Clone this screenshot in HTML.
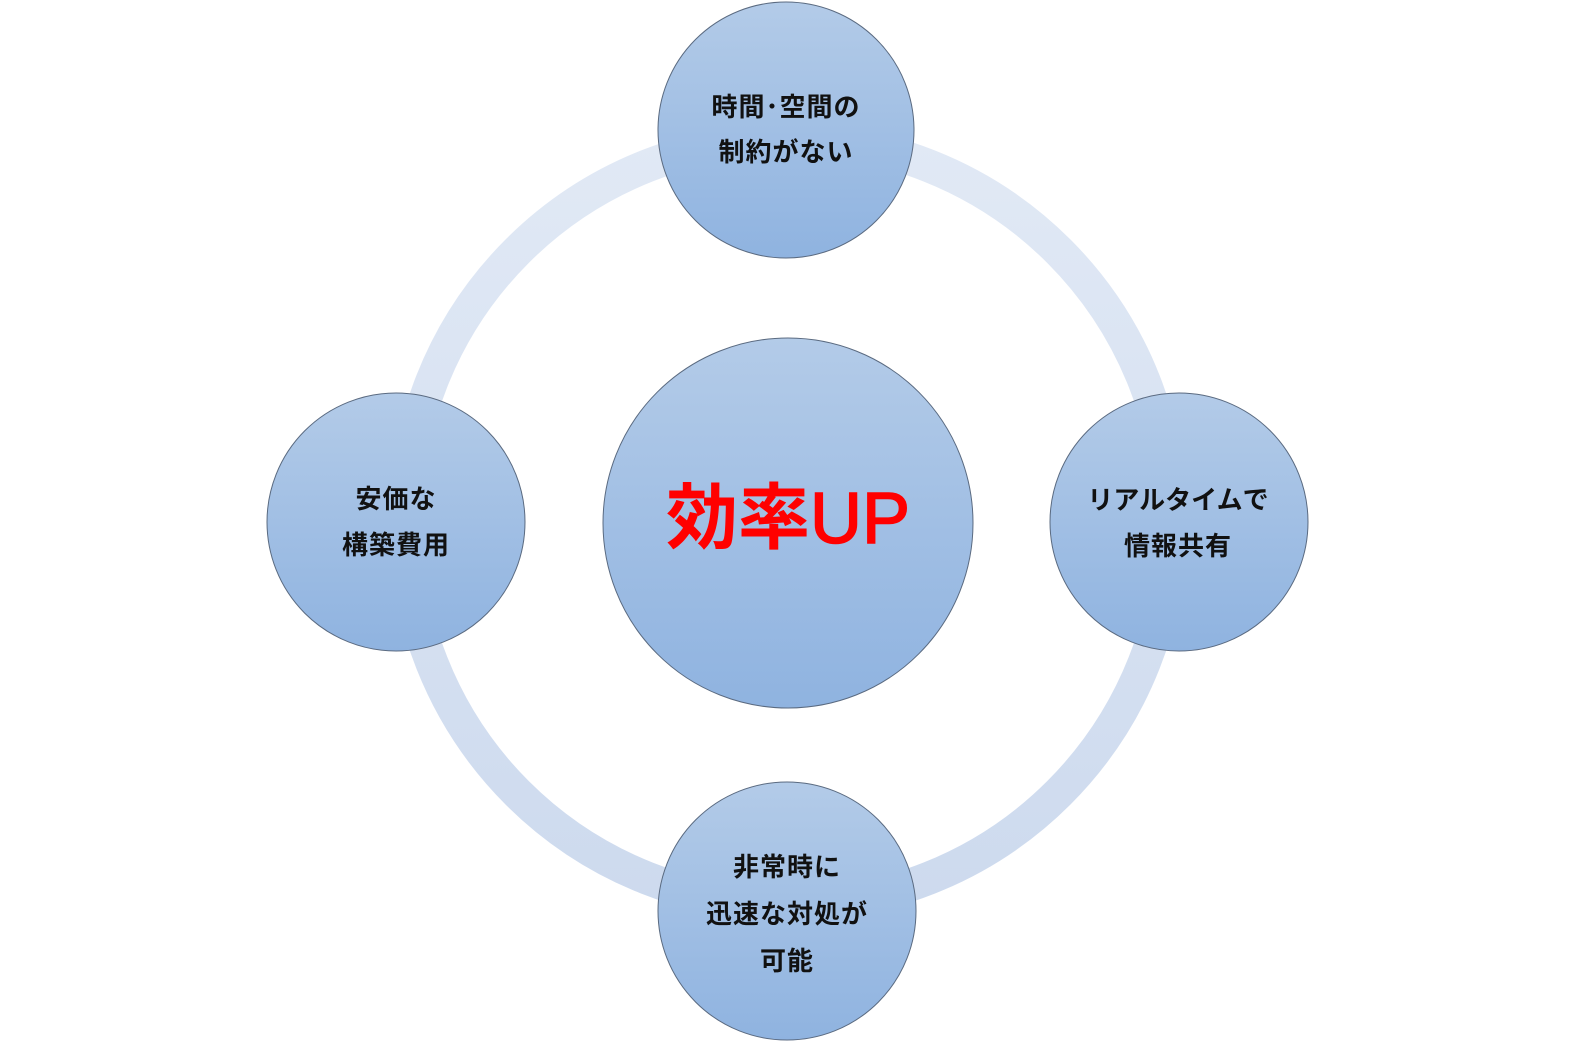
<!DOCTYPE html>
<html>
<head>
<meta charset="utf-8">
<style>
  html, body { margin: 0; padding: 0; background: #ffffff; }
  body { width: 1576px; height: 1047px; overflow: hidden; }
  svg { display: block; }
  .lbl { font-family: "Liberation Sans", "Noto Sans CJK JP", sans-serif; font-size: 26px; font-weight: bold; fill: #111111; }
  .main { font-family: "Liberation Sans", "Noto Sans CJK JP", sans-serif; font-size: 72px; fill: #ff0000; }
</style>
</head>
<body>
<svg width="1576" height="1047" viewBox="0 0 1576 1047" xmlns="http://www.w3.org/2000/svg">
  <defs>
    <linearGradient id="ringG" x1="0" y1="0" x2="0" y2="1">
      <stop offset="0" stop-color="#e1e9f5"/>
      <stop offset="1" stop-color="#cddaee"/>
    </linearGradient>
    <linearGradient id="circG" x1="0" y1="0" x2="0" y2="1">
      <stop offset="0" stop-color="#b3cbe8"/>
      <stop offset="1" stop-color="#8fb3e0"/>
    </linearGradient>
  </defs>

  <!-- ring -->
  <circle cx="788" cy="522" r="383" fill="none" stroke="url(#ringG)" stroke-width="33"/>

  <!-- center circle -->
  <circle cx="788" cy="523" r="185" fill="url(#circG)" stroke="#5a6a80" stroke-width="1"/>
  <text class="main" x="788" y="519" text-anchor="middle" dominant-baseline="central"><tspan font-weight="bold">効率</tspan><tspan stroke="#ff0000" stroke-width="1.6">UP</tspan></text>

  <!-- top -->
  <circle cx="786" cy="130" r="128" fill="url(#circG)" stroke="#5a6a80" stroke-width="1"/>
  <text class="lbl" x="786" y="107" text-anchor="middle" dominant-baseline="central" letter-spacing="1">時間･空間の</text>
  <text class="lbl" x="786" y="152" text-anchor="middle" dominant-baseline="central" letter-spacing="1">制約がない</text>

  <!-- left -->
  <circle cx="396" cy="522" r="129" fill="url(#circG)" stroke="#5a6a80" stroke-width="1"/>
  <text class="lbl" x="396" y="499" text-anchor="middle" dominant-baseline="central" letter-spacing="1">安価な</text>
  <text class="lbl" x="396" y="545" text-anchor="middle" dominant-baseline="central" letter-spacing="1">構築費用</text>

  <!-- right -->
  <circle cx="1179" cy="522" r="129" fill="url(#circG)" stroke="#5a6a80" stroke-width="1"/>
  <text class="lbl" x="1178" y="500" text-anchor="middle" dominant-baseline="central">リアルタイムで</text>
  <text class="lbl" x="1178" y="546" text-anchor="middle" dominant-baseline="central" letter-spacing="1">情報共有</text>

  <!-- bottom -->
  <circle cx="787" cy="911" r="129" fill="url(#circG)" stroke="#5a6a80" stroke-width="1"/>
  <text class="lbl" x="787" y="867" text-anchor="middle" dominant-baseline="central" letter-spacing="1">非常時に</text>
  <text class="lbl" x="787" y="914" text-anchor="middle" dominant-baseline="central" letter-spacing="1">迅速な対処が</text>
  <text class="lbl" x="787" y="961" text-anchor="middle" dominant-baseline="central" letter-spacing="1">可能</text>
</svg>
</body>
</html>
